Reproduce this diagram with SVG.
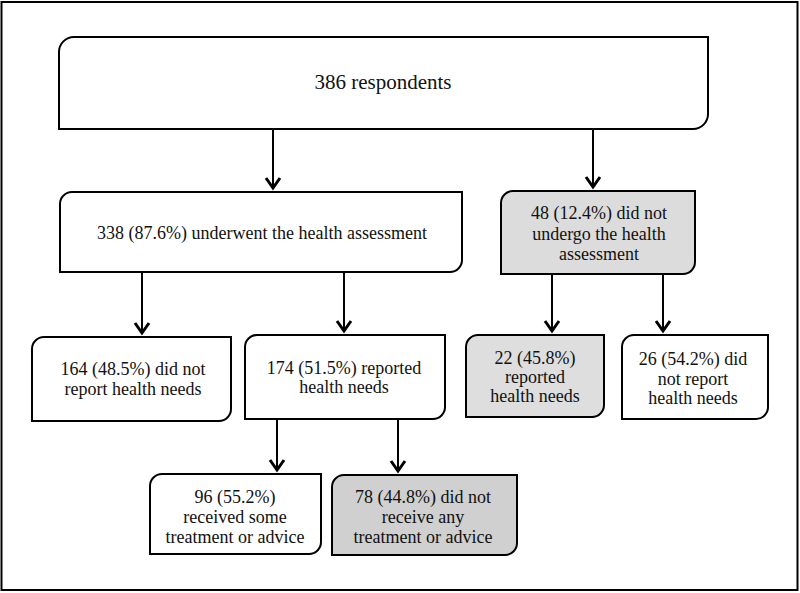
<svg xmlns="http://www.w3.org/2000/svg" width="800" height="593" viewBox="0 0 800 593">
<defs>
<style>
.box{stroke:#000;stroke-width:2;fill:#fff}
.g1{fill:#dcdcdc}
.g2{fill:#d0d0d0}
.g3{fill:#dedede}
.t{font-size:18px;fill:#111;text-anchor:middle}
.big{font-size:21px}
.conn line{stroke:#000;stroke-width:2}
.conn path{stroke:#000;stroke-width:3;fill:none;stroke-linejoin:miter}
</style>
</defs>
<rect x="1.5" y="2" width="796" height="588" fill="#fff" stroke="#000" stroke-width="2"/>
<g font-family="Liberation Serif, DejaVu Serif, serif">
<g id="n_root">
<path class="box" d="M59,52 A15,15 0 0 1 74,37 H708 V114 A15,15 0 0 1 693,129 H59 Z"/>
<text class="t big" x="383" y="89">386 respondents</text>
</g>
<g id="n_underwent">
<path class="box" d="M60,204 A12,12 0 0 1 72,192 H462 V260 A12,12 0 0 1 450,272 H60 Z"/>
<text class="t" x="262" y="239">338 (87.6%) underwent the health assessment</text>
</g>
<g id="n_notundergo">
<path class="box g1" d="M501,203 A12,12 0 0 1 513,191 H695 V262 A12,12 0 0 1 683,274 H501 Z"/>
<text class="t" x="599" y="219">48 (12.4%) did not</text>
<text class="t" x="599" y="240">undergo the health</text>
<text class="t" x="599" y="260">assessment</text>
</g>
<g id="n_164">
<path class="box" d="M32,349 A12,12 0 0 1 44,337 H231 V409 A12,12 0 0 1 219,421 H32 Z"/>
<text class="t" x="133" y="375">164 (48.5%) did not</text>
<text class="t" x="133" y="395">report health needs</text>
</g>
<g id="n_174">
<path class="box" d="M245,347 A12,12 0 0 1 257,335 H445 V407 A12,12 0 0 1 433,419 H245 Z"/>
<text class="t" x="344" y="374">174 (51.5%) reported</text>
<text class="t" x="344" y="393">health needs</text>
</g>
<g id="n_22">
<path class="box g3" d="M466,347 A12,12 0 0 1 478,335 H604 V405 A12,12 0 0 1 592,417 H466 Z"/>
<text class="t" x="535" y="364">22 (45.8%)</text>
<text class="t" x="535" y="383">reported</text>
<text class="t" x="535" y="402">health needs</text>
</g>
<g id="n_26">
<path class="box" d="M622,347 A12,12 0 0 1 634,335 H768 V407 A12,12 0 0 1 756,419 H622 Z"/>
<text class="t" x="693" y="365">26 (54.2%) did</text>
<text class="t" x="693" y="385">not report</text>
<text class="t" x="693" y="404">health needs</text>
</g>
<g id="n_96">
<path class="box" d="M150,486 A12,12 0 0 1 162,474 H321 V542 A12,12 0 0 1 309,554 H150 Z"/>
<text class="t" x="235" y="503">96 (55.2%)</text>
<text class="t" x="235" y="523">received some</text>
<text class="t" x="235" y="543">treatment or advice</text>
</g>
<g id="n_78">
<path class="box g2" d="M332,487 A12,12 0 0 1 344,475 H517 V543 A12,12 0 0 1 505,555 H332 Z"/>
<text class="t" x="423" y="503">78 (44.8%) did not</text>
<text class="t" x="423" y="523">receive any</text>
<text class="t" x="423" y="543">treatment or advice</text>
</g>
</g>
<g class="conn" id="connectors">
<line x1="273" y1="129" x2="273" y2="189"/><path d="M266,178 L273,188 L280,178"/>
<line x1="593" y1="129" x2="593" y2="188"/><path d="M586,177 L593,187 L600,177"/>
<line x1="142" y1="272" x2="142" y2="334"/><path d="M135,323 L142,333 L149,323"/>
<line x1="344" y1="272" x2="344" y2="332"/><path d="M337,321 L344,331 L351,321"/>
<line x1="552" y1="274" x2="552" y2="332"/><path d="M545,321 L552,331 L559,321"/>
<line x1="663" y1="274" x2="663" y2="332"/><path d="M656,321 L663,331 L670,321"/>
<line x1="277" y1="419" x2="277" y2="471"/><path d="M270,460 L277,470 L284,460"/>
<line x1="398" y1="419" x2="398" y2="472"/><path d="M391,461 L398,471 L405,461"/>
</g>
</svg>
